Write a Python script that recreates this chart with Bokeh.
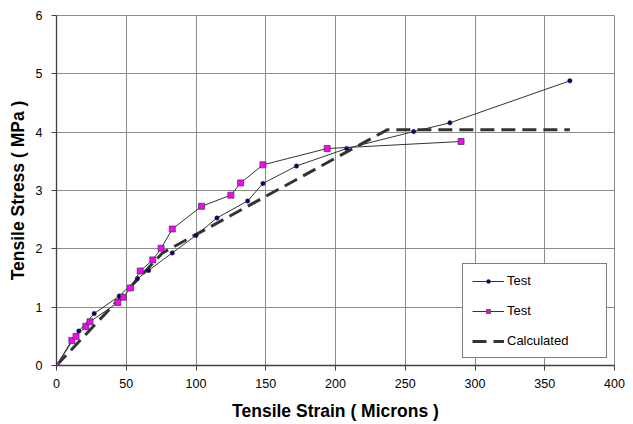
from bokeh.plotting import figure
from bokeh.models import Legend, LegendItem, FixedTicker, Range1d
from bokeh.embed import file_html
from bokeh.resources import INLINE

# ---- data ----
strain_test1 = [0, 16, 27, 45, 58, 66, 83, 100, 115, 137, 148, 172, 208, 256, 282, 368]
stress_test1 = [0, 0.59, 0.89, 1.19, 1.49, 1.63, 1.93, 2.23, 2.53, 2.82, 3.12, 3.42, 3.72, 4.01, 4.16, 4.88]

strain_test2 = [0, 11, 14, 21, 24, 44, 48, 53, 60, 69, 75, 83, 104, 125, 132, 148, 194, 290]
stress_test2 = [0, 0.43, 0.50, 0.67, 0.75, 1.08, 1.17, 1.33, 1.62, 1.81, 2.01, 2.34, 2.73, 2.92, 3.13, 3.44, 3.72, 3.84]

strain_calc = [0, 76, 237, 368]
stress_calc = [0, 1.93, 4.04, 4.04]

x_ticks = [0, 50, 100, 150, 200, 250, 300, 350, 400]
y_ticks = [0, 1, 2, 3, 4, 5, 6]

FONT = "Liberation Sans"

p = figure(width=633, height=424, output_backend="svg", toolbar_location=None,
           x_range=Range1d(0, 400), y_range=Range1d(0, 6),
           min_border_left=56, min_border_right=19, min_border_top=15, min_border_bottom=59)

p.background_fill_color = "white"
p.outline_line_color = "#8c8c8c"
p.outline_line_width = 1

for ax in (p.xaxis[0], p.yaxis[0]):
    ax.axis_line_color = "#404040"
    ax.axis_line_width = 1.3
    ax.major_tick_line_color = "#404040"
    ax.major_tick_out = 5
    ax.major_tick_in = 0
    ax.minor_tick_out = 0
    ax.minor_tick_in = 0
    ax.major_label_text_font = FONT
    ax.major_label_text_font_size = "12.5px"
    ax.major_label_text_color = "black"
    ax.axis_label_text_font = FONT
    ax.axis_label_text_font_size = "17.5px"
    ax.axis_label_text_font_style = "bold"
    ax.axis_label_text_color = "black"

p.xaxis.ticker = FixedTicker(ticks=x_ticks)
p.yaxis.ticker = FixedTicker(ticks=y_ticks)
p.xaxis.axis_label = "Tensile Strain ( Microns )"
p.yaxis.axis_label = "Tensile Stress ( MPa )"
p.xaxis.major_label_standoff = 8
p.xaxis.axis_label_standoff = 10
p.yaxis.major_label_standoff = 9
p.yaxis.axis_label_standoff = 5

p.xgrid.ticker = FixedTicker(ticks=x_ticks)
p.ygrid.ticker = FixedTicker(ticks=y_ticks)
for g in (p.xgrid[0], p.ygrid[0]):
    g.grid_line_color = "#8c8c8c"
    g.grid_line_width = 1

# calculated (dashed)
r_calc = p.line(strain_calc, stress_calc, line_color="#333333", line_width=3, line_dash="14 7")

# test 1
r1l = p.line(strain_test1, stress_test1, line_color="#333333", line_width=1)
r1m = p.scatter(strain_test1, stress_test1, marker="circle", size=4.5,
                fill_color="#000080", line_color="#333333", line_width=0.5)

# test 2
r2l = p.line(strain_test2, stress_test2, line_color="#333333", line_width=1)
r2m = p.scatter(strain_test2, stress_test2, marker="square", size=6,
                fill_color="#ff00ff", line_color="#444444", line_width=0.8)

legend = Legend(items=[
    LegendItem(label="Test", renderers=[r1l, r1m]),
    LegendItem(label="Test", renderers=[r2l, r2m]),
    LegendItem(label="Calculated", renderers=[r_calc]),
], location=(406, 7))
legend.label_text_font = FONT
legend.label_text_font_size = "13px"
legend.label_text_color = "black"
legend.glyph_width = 32
legend.glyph_height = 10
legend.spacing = 15
legend.padding = 9
legend.margin = 0
legend.label_standoff = 3
legend.label_width = 90
legend.label_height = 14
legend.border_line_color = "black"
legend.border_line_width = 1
legend.background_fill_color = "white"
legend.background_fill_alpha = 1
p.add_layout(legend, "center")

open("out.html", "w").write(file_html(p, INLINE))
